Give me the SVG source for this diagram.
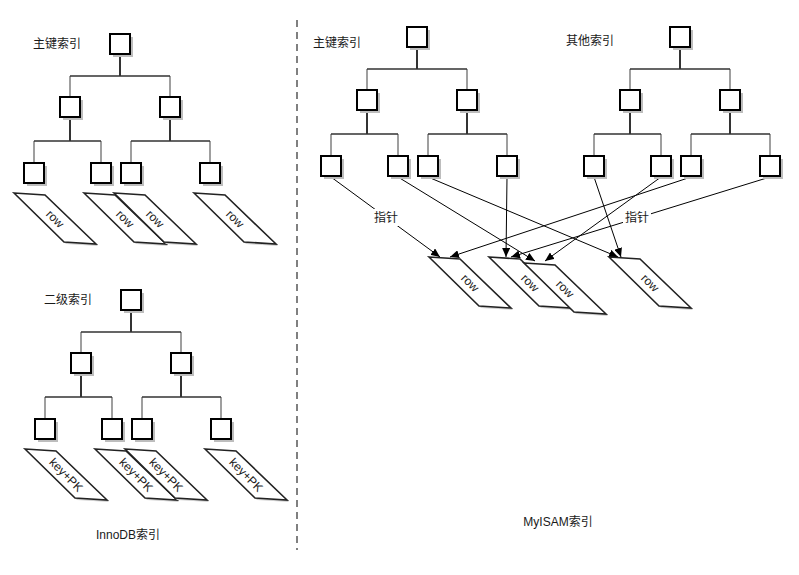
<svg xmlns="http://www.w3.org/2000/svg" xmlns:xlink="http://www.w3.org/1999/xlink" width="799" height="575" viewBox="0 0 799 575">
<style>
.lbl{font-family:"Liberation Sans","Noto Sans CJK SC",sans-serif;font-size:12px;fill:#1a1a1a}
.rt{font-family:"Liberation Sans","Noto Sans CJK SC",sans-serif;font-size:12px;fill:#1a1a1a;text-anchor:middle;dominant-baseline:central}
.trunk{stroke:#333;stroke-width:2;fill:none}
.hz{stroke:#333;stroke-width:1.3;fill:none}
.br{stroke:#777;stroke-width:1.4;fill:none}
.arr{stroke:#000;stroke-width:1;fill:none;marker-end:url(#ah)}
.sep{stroke:#808080;stroke-width:2;stroke-dasharray:7 5;fill:none}
</style>
<defs>
<g id="box"><rect x="3" y="3" width="20" height="20" fill="#bdbdbd"/><rect x="0" y="0" width="20" height="20" fill="#fff" stroke="#000" stroke-width="2"/></g>
<g id="par"><polygon points="2,2 33,4 84,53 52,51" fill="#d0d0d0"/><polygon points="0,0 31,2 82,51 50,49" fill="#fff" stroke="#222" stroke-width="1.6" stroke-linejoin="miter"/></g>
<marker id="ah" markerWidth="9" markerHeight="8" refX="9" refY="4" orient="auto" markerUnits="userSpaceOnUse"><path d="M0,0 L9,4 L0,8 z" fill="#000"/></marker>
</defs>

<line id="separator" class="sep" x1="297" y1="20" x2="297" y2="550"/>

<g id="connectors">
<g transform="translate(110,34)"><path class="br" d="M-40,42V63 M60,42V63 M-76,107V129 M-9,107V129 M21,107V129 M100,107V129"/><path class="hz" d="M-40,42H60 M-76,107H-9 M21,107H100"/><path class="trunk" d="M10,20V42 M-40,83V107 M60,83V107"/></g>
<g transform="translate(121,290)"><path class="br" d="M-40,42V63 M60,42V63 M-76,107V129 M-9,107V129 M21,107V129 M100,107V129"/><path class="hz" d="M-40,42H60 M-76,107H-9 M21,107H100"/><path class="trunk" d="M10,20V42 M-40,83V107 M60,83V107"/></g>
<g transform="translate(407,27)"><path class="br" d="M-40,42V63 M60,42V63 M-76,107V129 M-9,107V129 M21,107V129 M100,107V129"/><path class="hz" d="M-40,42H60 M-76,107H-9 M21,107H100"/><path class="trunk" d="M10,20V42 M-40,83V107 M60,83V107"/></g>
<g transform="translate(670,27)"><path class="br" d="M-40,42V63 M60,42V63 M-76,107V129 M-9,107V129 M21,107V129 M100,107V129"/><path class="hz" d="M-40,42H60 M-76,107H-9 M21,107H100"/><path class="trunk" d="M10,20V42 M-40,83V107 M60,83V107"/></g>
<line class="arr" x1="331" y1="177" x2="440" y2="257"/>
<line class="arr" x1="398" y1="177" x2="535" y2="261"/>
<line class="arr" x1="428" y1="177" x2="618" y2="257"/>
<line class="arr" x1="507" y1="177" x2="506" y2="257"/>
<line class="arr" x1="594" y1="177" x2="621" y2="257"/>
<line class="arr" x1="661" y1="177" x2="545" y2="261"/>
<line class="arr" x1="691" y1="177" x2="450" y2="257"/>
<line class="arr" x1="770" y1="177" x2="511" y2="257"/>
<g id="ptr-label-1"><rect x="372" y="209" width="28" height="17" fill="#fff"/><text class="lbl" x="386" y="222" text-anchor="middle">指针</text></g>
<g id="ptr-label-2"><rect x="623" y="209" width="28" height="17" fill="#fff"/><text class="lbl" x="637" y="222" text-anchor="middle">指针</text></g>
</g>

<!-- InnoDB primary key tree -->
<g id="i-pk-root" transform="translate(110,34)"><use xlink:href="#box"/></g>
<g id="i-pk-m1" transform="translate(60,97)"><use xlink:href="#box"/></g>
<g id="i-pk-m2" transform="translate(160,97)"><use xlink:href="#box"/></g>
<g id="i-pk-l1" transform="translate(24,163)"><use xlink:href="#box"/></g>
<g id="i-pk-l2" transform="translate(91,163)"><use xlink:href="#box"/></g>
<g id="i-pk-l3" transform="translate(121,163)"><use xlink:href="#box"/></g>
<g id="i-pk-l4" transform="translate(200,163)"><use xlink:href="#box"/></g>
<g id="i-row1" transform="translate(14,193)"><use xlink:href="#par"/><text class="rt" transform="translate(41,26) rotate(45)">row</text></g>
<g id="i-row2" transform="translate(84,193)"><use xlink:href="#par"/><text class="rt" transform="translate(41,26) rotate(45)">row</text></g>
<g id="i-row3" transform="translate(114,193)"><use xlink:href="#par"/><text class="rt" transform="translate(41,26) rotate(45)">row</text></g>
<g id="i-row4" transform="translate(194,193)"><use xlink:href="#par"/><text class="rt" transform="translate(41,26) rotate(45)">row</text></g>

<!-- InnoDB secondary tree -->
<g id="i-sec-root" transform="translate(121,290)"><use xlink:href="#box"/></g>
<g id="i-sec-m1" transform="translate(71,353)"><use xlink:href="#box"/></g>
<g id="i-sec-m2" transform="translate(171,353)"><use xlink:href="#box"/></g>
<g id="i-sec-l1" transform="translate(35,419)"><use xlink:href="#box"/></g>
<g id="i-sec-l2" transform="translate(102,419)"><use xlink:href="#box"/></g>
<g id="i-sec-l3" transform="translate(132,419)"><use xlink:href="#box"/></g>
<g id="i-sec-l4" transform="translate(211,419)"><use xlink:href="#box"/></g>
<g id="i-kp1" transform="translate(25,449)"><use xlink:href="#par"/><text class="rt" transform="translate(41,26) rotate(45)">key+PK</text></g>
<g id="i-kp2" transform="translate(95,449)"><use xlink:href="#par"/><text class="rt" transform="translate(41,26) rotate(45)">key+PK</text></g>
<g id="i-kp3" transform="translate(125,449)"><use xlink:href="#par"/><text class="rt" transform="translate(41,26) rotate(45)">key+PK</text></g>
<g id="i-kp4" transform="translate(205,449)"><use xlink:href="#par"/><text class="rt" transform="translate(41,26) rotate(45)">key+PK</text></g>

<!-- MyISAM primary key tree -->
<g id="m-pk-root" transform="translate(407,27)"><use xlink:href="#box"/></g>
<g id="m-pk-m1" transform="translate(357,90)"><use xlink:href="#box"/></g>
<g id="m-pk-m2" transform="translate(457,90)"><use xlink:href="#box"/></g>
<g id="m-pk-l1" transform="translate(321,156)"><use xlink:href="#box"/></g>
<g id="m-pk-l2" transform="translate(388,156)"><use xlink:href="#box"/></g>
<g id="m-pk-l3" transform="translate(418,156)"><use xlink:href="#box"/></g>
<g id="m-pk-l4" transform="translate(497,156)"><use xlink:href="#box"/></g>

<!-- MyISAM other index tree -->
<g id="m-ot-root" transform="translate(670,27)"><use xlink:href="#box"/></g>
<g id="m-ot-m1" transform="translate(620,90)"><use xlink:href="#box"/></g>
<g id="m-ot-m2" transform="translate(720,90)"><use xlink:href="#box"/></g>
<g id="m-ot-l1" transform="translate(584,156)"><use xlink:href="#box"/></g>
<g id="m-ot-l2" transform="translate(651,156)"><use xlink:href="#box"/></g>
<g id="m-ot-l3" transform="translate(681,156)"><use xlink:href="#box"/></g>
<g id="m-ot-l4" transform="translate(760,156)"><use xlink:href="#box"/></g>

<g id="m-row1" transform="translate(429,257)"><use xlink:href="#par"/><text class="rt" transform="translate(41,26) rotate(45)">row</text></g>
<g id="m-row2" transform="translate(489,257)"><use xlink:href="#par"/><text class="rt" transform="translate(41,26) rotate(45)">row</text></g>
<g id="m-row3" transform="translate(524,263)"><use xlink:href="#par"/><text class="rt" transform="translate(41,26) rotate(45)">row</text></g>
<g id="m-row4" transform="translate(609,257)"><use xlink:href="#par"/><text class="rt" transform="translate(41,26) rotate(45)">row</text></g>

<g id="labels">
<text class="lbl" x="33" y="48">主键索引</text>
<text class="lbl" x="44" y="304">二级索引</text>
<text class="lbl" x="128" y="539" text-anchor="middle">InnoDB索引</text>
<text class="lbl" x="313" y="47">主键索引</text>
<text class="lbl" x="566" y="45">其他索引</text>
<text class="lbl" x="558" y="526" text-anchor="middle">MyISAM索引</text>
</g>
</svg>
